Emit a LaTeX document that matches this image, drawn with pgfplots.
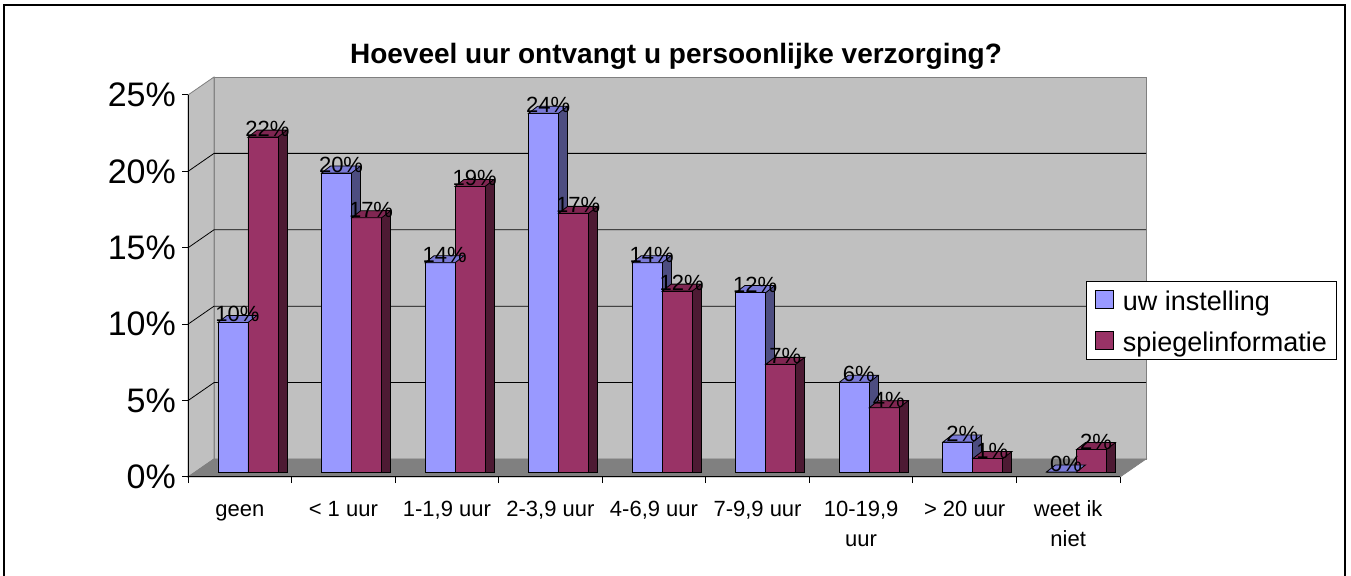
\documentclass[border=0pt]{standalone}
\usepackage{fontspec}
\setmainfont{Liberation Sans}
\usepackage{pgfplots}
\usepackage{pgfplotstable}
\pgfplotsset{compat=1.18}

\definecolor{serA}{RGB}{153,153,255}
\definecolor{serAtop}{RGB}{122,122,214}
\definecolor{serAside}{RGB}{77,77,128}
\definecolor{serB}{RGB}{153,51,102}
\definecolor{serBtop}{RGB}{128,38,82}
\definecolor{serBside}{RGB}{77,26,51}
\definecolor{wall}{RGB}{192,192,192}
\definecolor{floorc}{RGB}{128,128,128}

\newcommand\fTitle{\fontsize{28bp}{32bp}\bfseries\selectfont}
\newcommand\fTick{\fontsize{34bp}{38bp}\selectfont}
\newcommand\fCat{\fontsize{22bp}{30bp}\selectfont}
\newcommand\fData{\fontsize{22bp}{24bp}\selectfont}
\newcommand\fLeg{\fontsize{27bp}{31bp}\selectfont}

% top face of a 3D bar, drawn at the bar's top point
\pgfdeclareplotmark{topA}{%
  \pgfsetlinewidth{0.8bp}\pgfsetstrokecolor{black}\pgfsetfillcolor{serAtop}%
  \pgfpathmoveto{\pgfqpoint{-30bp}{0bp}}%
  \pgfpathlineto{\pgfqpoint{0bp}{0bp}}%
  \pgfpathlineto{\pgfqpoint{9bp}{7bp}}%
  \pgfpathlineto{\pgfqpoint{-21bp}{7bp}}%
  \pgfpathclose
  \pgfusepath{fill,stroke}}
\pgfdeclareplotmark{topB}{%
  \pgfsetlinewidth{0.8bp}\pgfsetstrokecolor{black}\pgfsetfillcolor{serBtop}%
  \pgfpathmoveto{\pgfqpoint{0bp}{0bp}}%
  \pgfpathlineto{\pgfqpoint{30bp}{0bp}}%
  \pgfpathlineto{\pgfqpoint{39bp}{7bp}}%
  \pgfpathlineto{\pgfqpoint{9bp}{7bp}}%
  \pgfpathclose
  \pgfusepath{fill,stroke}}

\pgfplotsset{
 legA/.style={legend image code/.code={%
   \draw[fill=serA,draw=black,line width=0.8bp] (0bp,-8bp) rectangle (18bp,10bp);}},
 legB/.style={legend image code/.code={%
   \draw[fill=serB,draw=black,line width=0.8bp] (0bp,-8bp) rectangle (18bp,10bp);}},
}

\pgfplotstableread{
x ui sp uil spl
0 10.0 22.4 10 22
1 20.0 17.0 20 17
2 14.0 19.1 14 19
3 24.0 17.3 24 17
4 14.0 12.1 14 12
5 12.0 7.2 12 7
6 6.0 4.3 6 4
7 2.0 0.9 2 1
8 0.0 1.5 0 2
}\datatable

\begin{document}
\begin{tikzpicture}
\useasboundingbox (0,0) rectangle (1351bp,576bp);
\draw[line width=1.2bp] (4bp,-5bp) rectangle (1345bp,571bp);
\node[anchor=base, font=\fTitle, inner sep=0pt] at (676bp,512bp) {Hoeveel uur ontvangt u persoonlijke verzorging?};

% front plane: walls, floor, axes, ticks
\begin{axis}[
  at={(188bp,99bp)}, anchor=south west,
  scale only axis, width=932bp, height=382bp,
  xmin=-0.5, xmax=8.5, ymin=0, ymax=25,
  clip=false, axis on top,
  axis x line*=bottom, axis y line*=left,
  axis line style={black, line width=1bp},
  tick align=outside, major tick length=6bp,
  tick style={black, line width=1bp},
  ytick={0,5,10,15,20,25},
  yticklabel={\pgfmathprintnumber{\tick}\%},
  yticklabel style={font=\fTick, anchor=east, inner sep=0pt, xshift=-6bp},
  /pgf/number format/assume math mode=true,
  xtick={-0.5,0.5,...,8.5},
  xticklabels={},
  extra x ticks={0,1,2,3,4,5,6,7,8},
  extra x tick style={major tick length=0pt},
  extra x tick labels={{\strut geen},{\strut< 1 uur},{\strut 1-1,9 uur},{\strut 2-3,9 uur},{\strut 4-6,9 uur},{\strut 7-9,9 uur},{\strut 10-19,9\\uur},{\strut > 20 uur},{\strut weet ik\\niet}},
  xticklabel style={font=\fCat, align=center, anchor=north, inner sep=0pt, yshift=-18bp},
]
\fill[wall, draw=floorc, line width=0.8bp] ([shift={(26bp,18bp)}]axis cs:-0.5,0) rectangle ([shift={(26bp,18bp)}]axis cs:8.5,25);
\filldraw[fill=wall, draw=floorc, line width=0.8bp] (axis cs:-0.5,0) -- (axis cs:-0.5,25) -- ([shift={(26bp,18bp)}]axis cs:-0.5,25) -- ([shift={(26bp,18bp)}]axis cs:-0.5,0) -- cycle;
\filldraw[fill=floorc, draw=floorc, line width=0.8bp] (axis cs:-0.5,0) -- (axis cs:8.5,0) -- ([shift={(26bp,18bp)}]axis cs:8.5,0) -- ([shift={(26bp,18bp)}]axis cs:-0.5,0) -- cycle;
\pgfplotsinvokeforeach{5,10,15,20}{
  \draw[black, line width=0.8bp] (axis cs:-0.5,#1) -- ([shift={(26bp,18bp)}]axis cs:-0.5,#1) -- ([shift={(26bp,18bp)}]axis cs:8.5,#1);
}
\end{axis}

% bars
\begin{axis}[
  at={(196.2bp,104bp)}, anchor=south west,
  scale only axis, width=932bp, height=373.75bp,
  xmin=-0.5, xmax=8.5, ymin=0, ymax=25,
  hide axis, clip=false,
  legend cell align=left,
  legend style={at={(axis description cs:0.9547,0.511)}, anchor=north west,
    draw=black, line width=0.8bp, fill=white, font=\fLeg,
    inner xsep=9bp, inner ysep=3bp, row sep=10bp, column sep=8.7bp,
    nodes={inner sep=0pt, text height=26bp, text depth=5bp}},
  every node near coord/.append style={font=\fData, anchor=base, inner sep=0pt, yshift=0.5bp, black},
]
% series 1: side face, front face, top face
\addplot[ybar, bar width=9bp, bar shift=4.5bp, fill=serAside, draw=black, line width=0.8bp, forget plot]
  table[x=x, y expr=\thisrow{ui}+0.468]{\datatable};
\addplot[ybar, bar width=30bp, bar shift=-15bp, fill=serA, draw=black, line width=0.8bp, legA]
  table[x=x,y=ui]{\datatable};
\addlegendentry{uw instelling}
\addplot[only marks, mark=topA, forget plot] table[x=x,y=ui]{\datatable};
% series 2
\addplot[ybar, bar width=9bp, bar shift=34.5bp, fill=serBside, draw=black, line width=0.8bp, forget plot]
  table[x=x, y expr=\thisrow{sp}+0.468]{\datatable};
\addplot[ybar, bar width=30bp, bar shift=15bp, fill=serB, draw=black, line width=0.8bp, legB]
  table[x=x,y=sp]{\datatable};
\addlegendentry{spiegelinformatie}
\addplot[only marks, mark=topB, forget plot] table[x=x,y=sp]{\datatable};
% value labels on top
\addplot[ybar, bar width=30bp, bar shift=-15bp, draw=none, fill=none, forget plot,
  point meta=explicit symbolic, nodes near coords={\pgfplotspointmeta\%},
  every node near coord/.append style={xshift=-10.5bp}]
  table[x=x,y=ui,meta=uil]{\datatable};
\addplot[ybar, bar width=30bp, bar shift=15bp, draw=none, fill=none, forget plot,
  point meta=explicit symbolic, nodes near coords={\pgfplotspointmeta\%},
  every node near coord/.append style={xshift=19.5bp}]
  table[x=x,y=sp,meta=spl]{\datatable};
\end{axis}
\end{tikzpicture}
\end{document}
